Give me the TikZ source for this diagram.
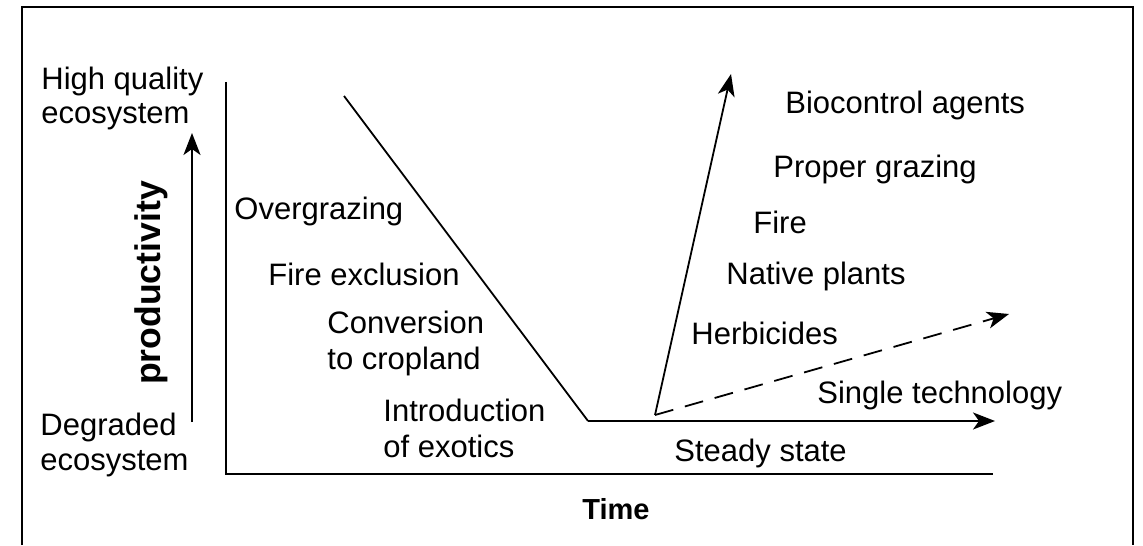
\documentclass[tikz,border=0pt]{standalone}
\usepackage{fontspec}
\setmainfont{Liberation Sans}
\usetikzlibrary{arrows.meta}
\tikzset{
  lbl/.style={anchor=base west, inner sep=0pt, font=\fontsize{15.5}{18}\selectfont},
  boldlbl/.style={inner sep=0pt, font=\bfseries\fontsize{14.5}{17}\selectfont},
  axisline/.style={line width=1pt},
  trend/.style={line width=0.9pt},
  tip/.style={-{Stealth[length=11pt,width=8.5pt,inset=3pt]}},
}
\begin{document}
\begin{tikzpicture}[x=0.5pt,y=-0.5pt]
\useasboundingbox (0,0) rectangle (1143,545);
% frame
\draw[line width=1pt] (22,545) -- (22,7) -- (1133,7) -- (1133,545);
% coordinates
\coordinate (ytop) at (226,82);
\coordinate (origin) at (226,474);
\coordinate (xend) at (993,474);
\coordinate (pbot) at (192,422);
\coordinate (ptop) at (192,133);
\coordinate (dtop) at (344,96);
\coordinate (dbot) at (588,421);
\coordinate (send) at (995,421);
\coordinate (vtx) at (655,415);
\coordinate (rtop) at (731,74);
\coordinate (dashend) at (1009,314);
% axes
\draw[axisline] (ytop) -- (origin) -- (xend);
\draw[axisline,tip] (pbot) -- (ptop);
% trends
\draw[trend] (dtop) -- (dbot);
\draw[axisline,tip] (dbot) -- (send);
\draw[trend,tip] (vtx) -- (rtop);
\draw[trend,tip,dash pattern=on 9.5pt off 6pt] (vtx) -- (dashend);
% left labels
\node[lbl] (hq1) at (41,90) {High quality};
\node[lbl] (hq2) at (41,124) {ecosystem};
\node[lbl] (dg1) at (40,435) {Degraded};
\node[lbl] (dg2) at (40,470) {ecosystem};
\node[boldlbl,font=\bfseries\fontsize{17.8}{20}\selectfont,rotate=90,anchor=base] (prod) at (160,283) {productivity};
\node[boldlbl,anchor=base west] (time) at (582,519) {Time};
% decline labels
\node[lbl] (og) at (234,220) {Overgrazing};
\node[lbl] (fe) at (268,285) {Fire exclusion};
\node[lbl] (cv1) at (327,333) {Conversion};
\node[lbl] (cv2) at (327,369) {to cropland};
\node[lbl] (in1) at (383,421) {Introduction};
\node[lbl] (in2) at (383,457) {of exotics};
% restoration labels
\node[lbl] (bio) at (785,114) {Biocontrol agents};
\node[lbl] (pg) at (773,177) {Proper grazing};
\node[lbl] (fire) at (753,233) {Fire};
\node[lbl] (np) at (726,284) {Native plants};
\node[lbl] (herb) at (691,344) {Herbicides};
\node[lbl] (single) at (817,403) {Single technology};
\node[lbl] (steady) at (674,461) {Steady state};
\end{tikzpicture}
\end{document}
